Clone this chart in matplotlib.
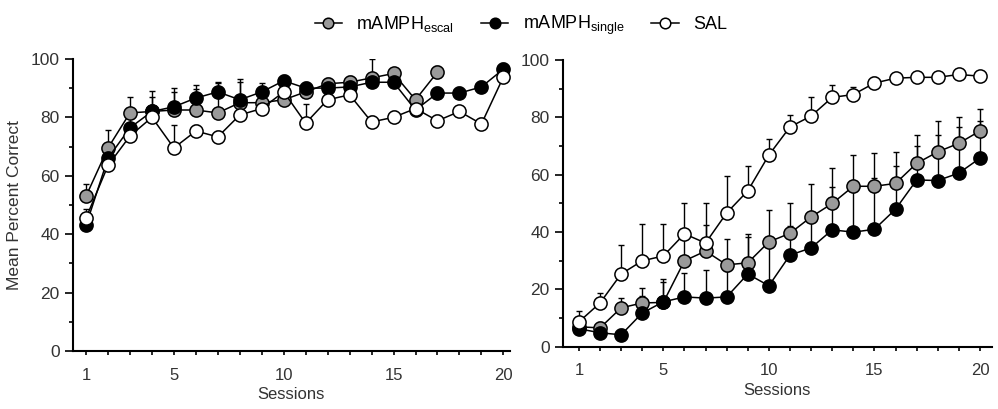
import numpy as np
import matplotlib
matplotlib.use('Agg')
import matplotlib.pyplot as plt
from matplotlib.ticker import MultipleLocator

plt.rcParams['font.family'] = ['Liberation Sans', 'DejaVu Sans']
plt.rcParams['font.size'] = 10.5

sessions = np.arange(1, 21)

# left panel: acquisition
escal_left = [53, 69.5, 81.5, 82, 82.5, 82.5, 81.5, 85, 85, 86, 88.7, 91.5, 92, 93.5, 95, 86, 95.5]
escal_left_err = [4, 6, 5.5, 7, 7.5, 8.5, 10.5, 8, 3, 3, 2, 2, 2, 6.5, 2, 2, 2]
single_left = [43, 66, 76.4, 82, 83.6, 86.6, 88.7, 86, 88.7, 92.5, 90, 90, 90.4, 92, 92, 82.5, 88.3, 88.3, 90.4, 96.5]
single_left_err = [2, 3, 4, 5, 5, 3, 3, 6, 3, 2, 2, 2, 2, 2, 2, 2, 2, 2, 2, 2]
sal_left = [45.5, 63.5, 73.6, 80, 69.5, 75.3, 73.3, 80.8, 83, 88.7, 78, 86, 87.7, 78.4, 80, 83, 78.8, 82, 77.7, 93.8]
sal_left_err = [3, 2, 2, 2, 8, 2, 2, 2, 2, 2, 6.6, 2, 2, 2, 2, 2, 2, 2, 2, 2]

# right panel: reversal
escal_right = [7, 6.6, 13.6, 15.3, 15.5, 30, 33.4, 28.6, 29.3, 36.6, 39.6, 45.3, 50, 56, 56, 57, 64, 68, 71, 75.3]
escal_right_err = [2, 2, 3.4, 5.3, 7, 10, 9, 9, 10, 11, 10.4, 11.5, 12.4, 11, 11.6, 11, 10, 10.7, 9, 7.7]
single_right = [6.3, 4.9, 4.2, 11.8, 15.7, 17.4, 17, 17.4, 25.4, 21.3, 32, 34.5, 40.8, 40, 41, 48, 58.2, 58, 60.6, 65.8]
single_right_err = [2, 2, 2, 6, 8, 8.4, 9.8, 9, 13, 15, 10, 10, 15, 15, 18, 15, 12, 16, 16, 13]
sal_right = [8.7, 15.3, 25.4, 30, 31.7, 39.4, 36.2, 46.7, 54.4, 66.9, 76.7, 80.5, 87, 88, 92, 93.7, 94, 94, 95, 94.4]
sal_right_err = [3.8, 3.5, 10, 13, 11.3, 10.6, 13.8, 13, 8.6, 5.6, 4, 6.5, 4.3, 2.6, 2, 1.5, 1.5, 1.5, 1.5, 1.5]

groups = [
    ('mAMPH$_{\\mathregular{escal}}$', '#9a9a9a'),
    ('mAMPH$_{\\mathregular{single}}$', 'black'),
    ('SAL', 'white'),
]

fig = plt.figure(figsize=(9.98, 4.09), dpi=100)
ax1 = fig.add_axes([0.073, 0.142, 0.438, 0.714])
ax2 = fig.add_axes([0.564, 0.152, 0.430, 0.701])


def draw(ax, series, xlim):
    for (label, color), (y, err) in zip(groups, series):
        x = sessions[:len(y)]
        ax.errorbar(x, y, yerr=[np.zeros(len(err)), err], fmt='none',
                    ecolor='black', elinewidth=1, capsize=2.5, capthick=1, zorder=2)
    for z, ((label, color), (y, err)) in enumerate(zip(groups, series)):
        x = sessions[:len(y)]
        ax.plot(x, y, '-o', color='black', lw=1.1, marker='o', ms=9.5,
                mfc=color, mec='black', mew=1.1, label=label, zorder=3 + z)
    ax.set_xlim(*xlim)
    ax.set_ylim(0, 100)
    ax.spines['top'].set_visible(False)
    ax.spines['right'].set_visible(False)
    ax.spines['left'].set_linewidth(1.5)
    ax.spines['bottom'].set_linewidth(1.5)
    ax.set_xticks(sessions, minor=True)
    ax.set_xticks([1, 5, 10, 15, 20])
    ax.yaxis.set_major_locator(MultipleLocator(20))
    ax.yaxis.set_minor_locator(MultipleLocator(10))
    ax.tick_params(which='both', direction='out', width=1.2, colors='black', labelcolor='#333333')
    ax.tick_params(axis='y', which='major', length=6, labelsize=12.5)
    ax.tick_params(axis='y', which='minor', length=3)
    ax.tick_params(axis='x', which='major', length=3, labelsize=12, pad=9)
    ax.tick_params(axis='x', which='minor', length=3)
    ax.set_xlabel('Sessions', fontsize=12, color='#333333', labelpad=3)


draw(ax1, [(escal_left, escal_left_err), (single_left, single_left_err), (sal_left, sal_left_err)], (0.4, 20.3))
draw(ax2, [(escal_right, escal_right_err), (single_right, single_right_err), (sal_right, sal_right_err)], (0.24, 20.57))
ax1.set_ylabel('Mean Percent Correct', fontsize=12.5, color='#333333', labelpad=6)

handles, labels = ax1.get_legend_handles_labels()
fig.legend(handles, labels, loc='upper center', bbox_to_anchor=(0.522, 1.005), ncol=3,
           frameon=False, fontsize=13, handlelength=1.5, columnspacing=1.5,
           handletextpad=0.8, markerscale=0.8)

fig.savefig('out.png', dpi=100)
